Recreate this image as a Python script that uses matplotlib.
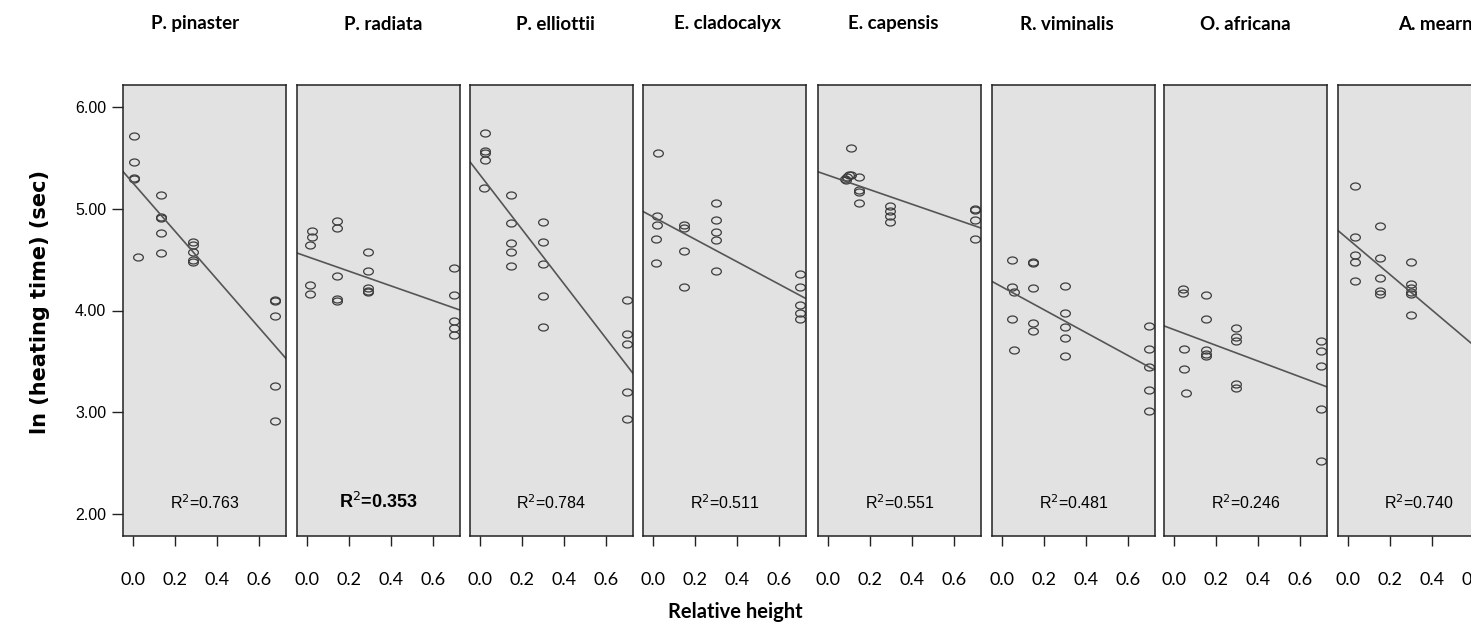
"""
Relative height vs ln(heating time), one panel per species
"""
import numpy as np
import matplotlib.pyplot as plt
from matplotlib.path import Path

# Données
species = ['P. pinaster', 'P. radiata', 'P. elliottii', 'E. cladocalyx',
           'E. capensis', 'R. viminalis', 'O. africana', 'A. mearnsii']

pinaster_x = [0.005, 0.005, 0.005, 0.005, 0.023, 0.133, 0.133, 0.133, 0.133, 0.133,
              0.284, 0.284, 0.284, 0.284, 0.284, 0.677, 0.677, 0.677, 0.677, 0.677]
pinaster_y = [5.72, 5.46, 5.30, 5.29, 4.53, 5.14, 4.92, 4.91, 4.76, 4.57,
              4.67, 4.64, 4.58, 4.50, 4.48, 4.10, 4.09, 3.95, 3.26, 2.91]

radiata_x = [0.02, 0.02, 0.01, 0.01, 0.01, 0.14, 0.14, 0.14, 0.14, 0.14,
             0.29, 0.29, 0.29, 0.29, 0.29, 0.70, 0.70, 0.70, 0.70, 0.70]
radiata_y = [4.78, 4.72, 4.64, 4.25, 4.16, 4.88, 4.81, 4.34, 4.11, 4.09,
             4.58, 4.39, 4.22, 4.19, 4.18, 4.42, 4.15, 3.90, 3.83, 3.76]

elliottii_x = [0.02, 0.02, 0.02, 0.02, 0.015, 0.146, 0.146, 0.146, 0.146, 0.146,
               0.30, 0.30, 0.30, 0.30, 0.30, 0.70, 0.70, 0.70, 0.70, 0.70]
elliottii_y = [5.75, 5.57, 5.55, 5.48, 5.21, 5.14, 4.86, 4.66, 4.58, 4.44,
               4.87, 4.67, 4.46, 4.14, 3.84, 4.10, 3.77, 3.67, 3.20, 2.93]

cladocalyx_x = [0.02, 0.016, 0.016, 0.011, 0.011, 0.144, 0.144, 0.144, 0.144,
                0.30, 0.30, 0.30, 0.30, 0.30, 0.70, 0.70, 0.70, 0.70, 0.70]
cladocalyx_y = [5.55, 4.93, 4.84, 4.70, 4.47, 4.84, 4.81, 4.59, 4.23,
                5.06, 4.89, 4.77, 4.69, 4.39, 4.36, 4.23, 4.05, 3.98, 3.92]

capensis_x = [0.109, 0.08, 0.09, 0.10, 0.11, 0.085, 0.147, 0.147, 0.147, 0.144,
              0.296, 0.296, 0.296, 0.296, 0.70, 0.70, 0.70, 0.70]
capensis_y = [5.60, 5.29, 5.31, 5.33, 5.33, 5.28, 5.31, 5.19, 5.17, 5.06,
              5.03, 4.98, 4.93, 4.87, 5.00, 4.99, 4.89, 4.70]

viminalis_x = [0.045, 0.048, 0.053, 0.045, 0.056, 0.147, 0.147, 0.147, 0.147, 0.147,
               0.30, 0.30, 0.30, 0.30, 0.30, 0.70, 0.70, 0.70, 0.70, 0.70]
viminalis_y = [4.50, 4.23, 4.18, 3.92, 3.61, 4.48, 4.47, 4.22, 3.88, 3.80,
               4.24, 3.98, 3.84, 3.73, 3.55, 3.85, 3.62, 3.44, 3.22, 3.01]

africana_x = [0.04, 0.04, 0.048, 0.048, 0.053, 0.149, 0.149, 0.149, 0.149, 0.149,
              0.296, 0.296, 0.296, 0.296, 0.296, 0.70, 0.70, 0.70, 0.70, 0.70]
africana_y = [4.21, 4.17, 3.62, 3.42, 3.19, 4.15, 3.92, 3.61, 3.57, 3.55,
              3.83, 3.74, 3.70, 3.28, 3.24, 3.70, 3.60, 3.45, 3.03, 2.52]

mearnsii_x = [0.032, 0.032, 0.032, 0.032, 0.032, 0.15, 0.15, 0.15, 0.15, 0.15,
              0.297, 0.297, 0.297, 0.297, 0.297, 0.297]
mearnsii_y = [5.23, 4.72, 4.55, 4.48, 4.29, 4.83, 4.52, 4.32, 4.19, 4.16,
              4.48, 4.26, 4.22, 4.18, 4.16, 3.96]

# Droites de régression (ordonnée à l'origine, pente) et R²
intercepts = [5.25, 4.53, 5.33, 4.92, 5.33, 4.23, 3.81, 4.70]
slopes = [-2.36, -0.72, -2.67, -1.10, -0.71, -1.12, -0.77, -1.74]
r2_labels = ['0.763', '0.353', '0.784', '0.511', '0.551', '0.481', '0.246', '0.740']

xs = [pinaster_x, radiata_x, elliottii_x, cladocalyx_x, capensis_x, viminalis_x, africana_x, mearnsii_x]
ys = [pinaster_y, radiata_y, elliottii_y, cladocalyx_y, capensis_y, viminalis_y, africana_y, mearnsii_y]

y_ticks = [2.0, 3.0, 4.0, 5.0, 6.0]
x_ticks = [0.0, 0.2, 0.4, 0.6]

# marqueur ellipse (cercle aplati)
t = np.linspace(0, 2 * np.pi, 41)
ellipse = Path(np.c_[np.cos(t), 0.72 * np.sin(t)])

W, H = 1471, 625
fig = plt.figure(figsize=(W / 100, H / 100), dpi=100)

lefts = [123, 297, 470, 643, 818, 992, 1164, 1338]  # pixels
title_x = [195, 383, 555, 727, 893, 1067, 1245, 1398]
pw = 163
top, bottom = 85, 536

for i in range(len(species)):
    ax = fig.add_axes([lefts[i] / W, 1 - bottom / H, pw / W, (bottom - top) / H])
    ax.set_facecolor('#e2e2e2')
    ax.plot(xs[i], ys[i], linestyle='none', marker=ellipse, markersize=7,
            markerfacecolor='none', markeredgecolor='#3c3c3c', markeredgewidth=0.9)
    xl = np.array([-0.05, 0.73])
    ax.plot(xl, intercepts[i] + slopes[i] * xl, color='#555555', lw=1.2)
    ax.set_xlim(-0.05, 0.73)
    ax.set_ylim(1.78, 6.22)
    for s in ax.spines.values():
        s.set_color('#222222')
        s.set_linewidth(1.1)
    ax.set_xticks(x_ticks)
    ax.set_xticklabels([f'{v:.1f}' for v in x_ticks], family='Lato', fontsize=13)
    ax.tick_params(axis='x', length=7, width=1, color='#222222', pad=19)
    if i == 0:
        ax.set_yticks(y_ticks)
        ax.set_yticklabels([f'{v:.2f}' for v in y_ticks], family='Liberation Sans', fontsize=11.5)
        ax.tick_params(axis='y', length=8, width=1, color='#222222', pad=4)
    else:
        ax.set_yticks([])
    w = 'bold' if i == 1 else 'normal'
    ax.text(0.5, 0.075, r'R$^2$=' + r2_labels[i], transform=ax.transAxes, ha='center',
            va='center', fontsize=13 if i == 1 else 11.5, fontweight=w,
            family='Liberation Sans', math_fontfamily='dejavusans')
    ha = 'left' if i == 7 else 'center'
    fig.text(title_x[i] / W, 1 - 24 / H, species[i], ha=ha, va='center',
             fontsize=13.5, fontweight='bold', family='Lato')

fig.text(40 / W, 1 - 302 / H, 'ln (heating time) (sec)', rotation=90, ha='center',
         va='center', fontsize=15, fontweight='bold', family='DejaVu Sans')
fig.text(735 / W, 1 - 612 / H, 'Relative height', ha='center', va='center',
         fontsize=14.5, fontweight='bold', family='Lato')

fig.savefig('out.png', dpi=100)
plt.close(fig)
